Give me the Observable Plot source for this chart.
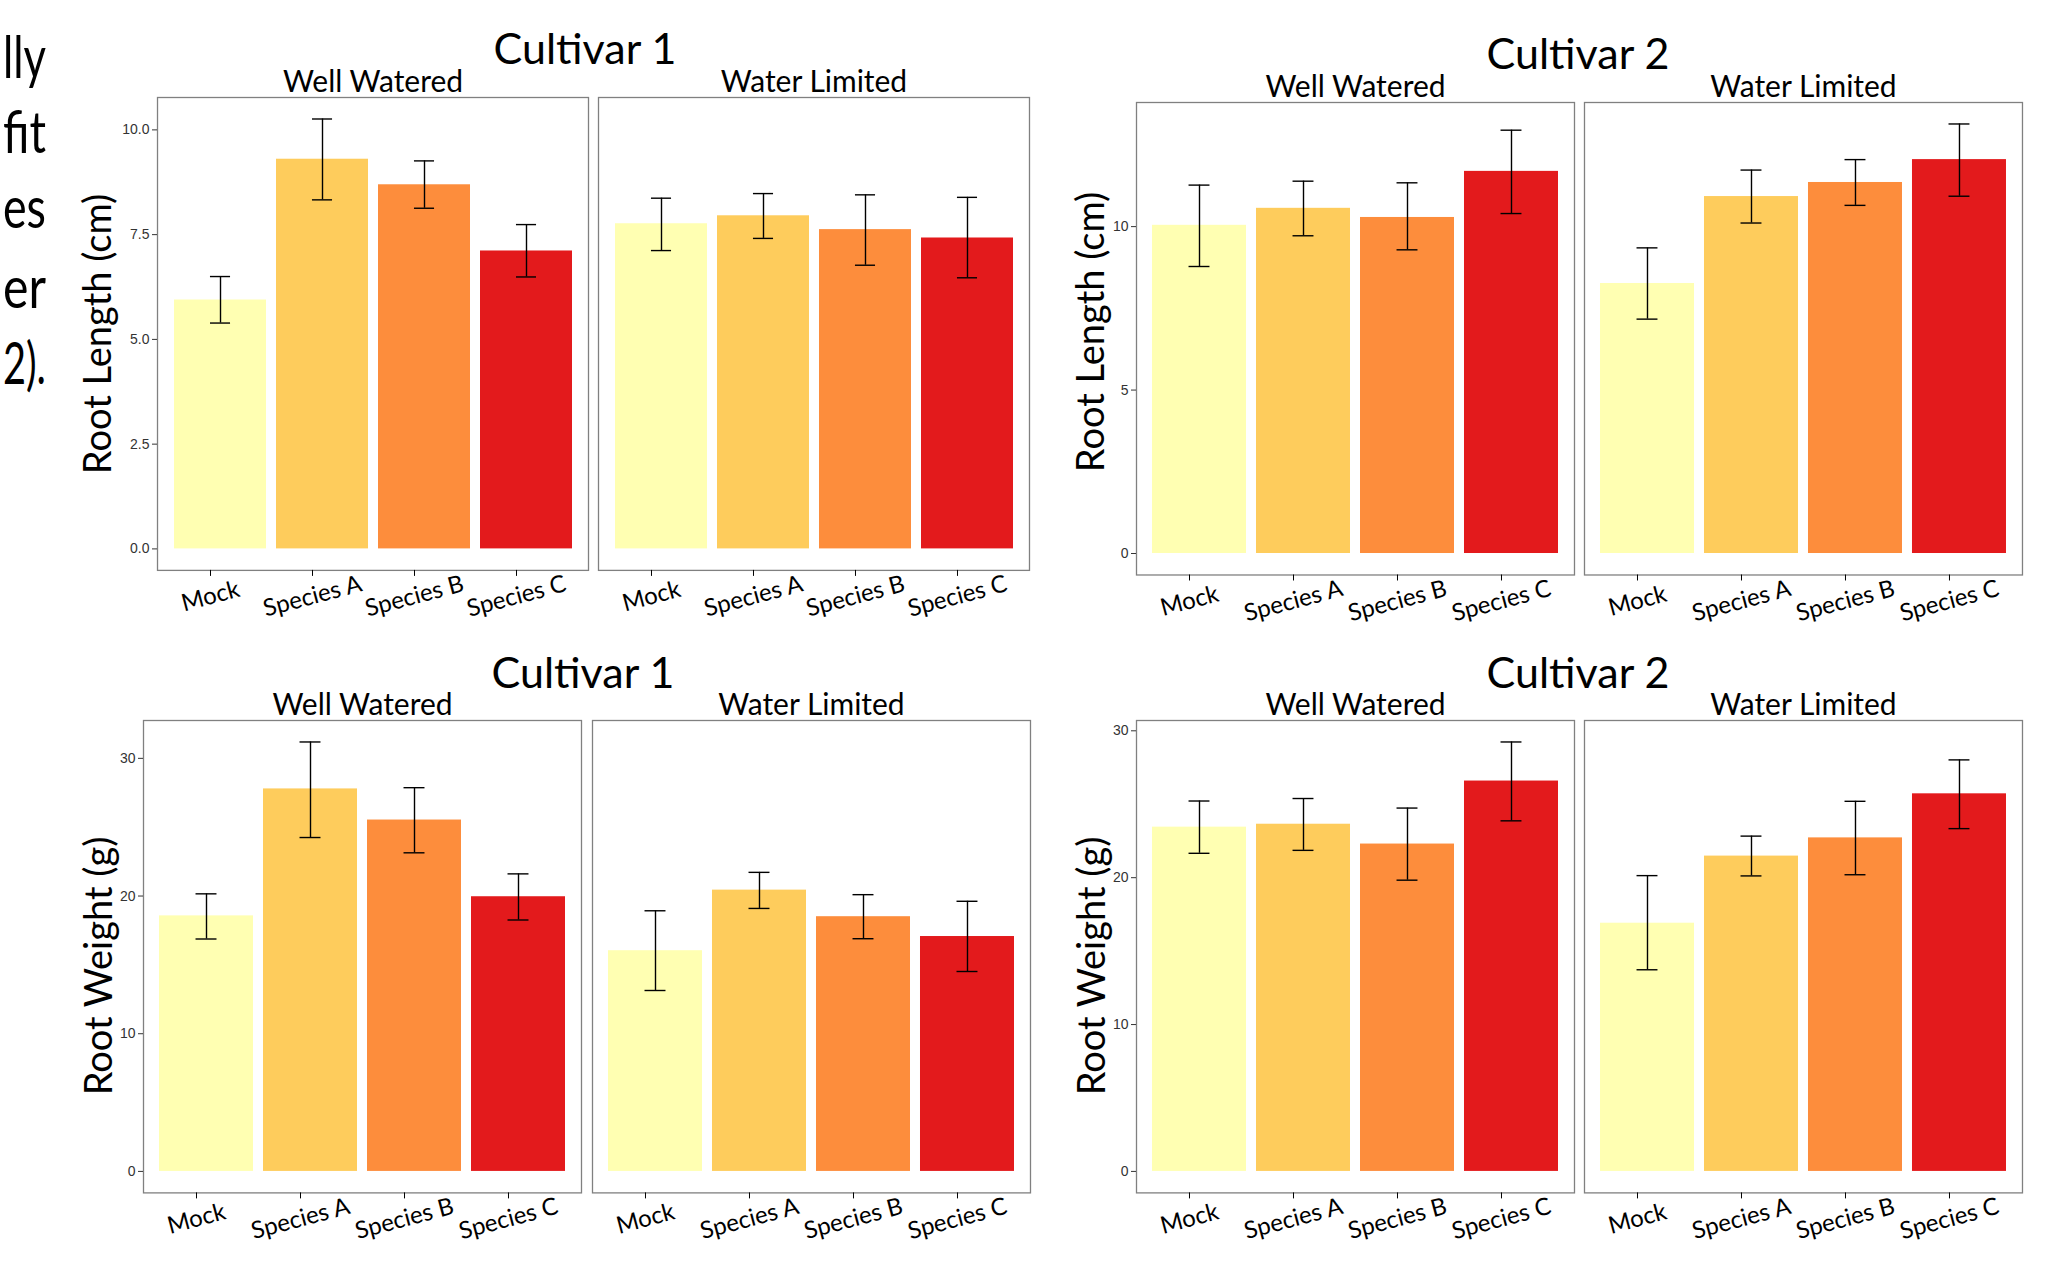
<!DOCTYPE html>
<html>
<head>
<meta charset="utf-8">
<script src="https://cdn.jsdelivr.net/npm/d3@7"></script>
<script src="https://cdn.jsdelivr.net/npm/@observablehq/plot@0.6"></script>
<style>
  html, body { margin: 0; padding: 0; background: #fff; }
  #page { position: relative; width: 2069px; height: 1272px; overflow: hidden; background: #fff; }
  .chart { position: absolute; }
  #overlay { position: absolute; left: 0; top: 0; }
</style>
</head>
<body>
<div id="page">
  <svg id="overlay" width="2069" height="1272"></svg>
</div>
<script>
// ---------- data ----------
const treatments = ["Mock", "Species A", "Species B", "Species C"];
const conditions = ["Well Watered", "Water Limited"];
const barColors = ["#ffffb2", "#fecc5c", "#fd8d3c", "#e31a1c"];

// values ordered: Well Watered (Mock, A, B, C), then Water Limited (Mock, A, B, C)
const c1LengthMean  = [5.94, 9.30, 8.69, 7.11, 7.76, 7.95, 7.62, 7.42];
const c1LengthLower = [5.39, 8.33, 8.13, 6.49, 7.12, 7.41, 6.77, 6.47];
const c1LengthUpper = [6.50, 10.26, 9.26, 7.74, 8.37, 8.48, 8.45, 8.39];
const c1LengthTicks = [0, 2.5, 5, 7.5, 10];

const c2LengthMean  = [10.04, 10.56, 10.28, 11.69, 8.26, 10.92, 11.35, 12.05];
const c2LengthLower = [8.78, 9.72, 9.29, 10.40, 7.17, 10.11, 10.65, 10.93];
const c2LengthUpper = [11.27, 11.39, 11.34, 12.95, 9.35, 11.73, 12.05, 13.14];
const c2LengthTicks = [0, 5, 10];

const c1WeightMean  = [18.56, 27.78, 25.52, 19.95, 16.03, 20.43, 18.50, 17.06];
const c1WeightLower = [16.88, 24.25, 23.14, 18.26, 13.14, 19.10, 16.90, 14.52];
const c1WeightUpper = [20.16, 31.19, 27.87, 21.61, 18.93, 21.72, 20.10, 19.62];
const c1WeightTicks = [0, 10, 20, 30];

const c2WeightMean  = [23.44, 23.64, 22.29, 26.58, 16.90, 21.47, 22.71, 25.71];
const c2WeightLower = [21.66, 21.86, 19.83, 23.87, 13.73, 20.12, 20.20, 23.34];
const c2WeightUpper = [25.22, 25.39, 24.74, 29.24, 20.14, 22.83, 25.20, 28.02];
const c2WeightTicks = [0, 10, 20, 30];

const chartTitles = ["Cultivar 1", "Cultivar 2", "Cultivar 1", "Cultivar 2"];
const yTitles = ["Root Length (cm)", "Root Length (cm)", "Root Weight (g)", "Root Weight (g)"];
const sideFragments = ["lly", "fit", "es", "er", "2)."];

// ---------- layout (pixels) ----------
const layouts = [
  {x0: 157,   x1: 1030,   y0: 96.5,  y1: 569.4,  gap: 10, titleX: 585,  titleY: 64,  yLabX: 111,  yLabY: 334},
  {x0: 1136,  x1: 2022.7, y0: 101.6, y1: 574.1,  gap: 10, titleX: 1578, titleY: 69,  yLabX: 1104, yLabY: 332},
  {x0: 142.7, x1: 1030,   y0: 720.2, y1: 1192.6, gap: 11, titleX: 583,  titleY: 688, yLabX: 112,  yLabY: 966},
  {x0: 1136,  x1: 2022.7, y0: 720.2, y1: 1192.6, gap: 10, titleX: 1578, titleY: 688, yLabX: 1105, yLabY: 966}
];

const series = [
  {mean: c1LengthMean, lower: c1LengthLower, upper: c1LengthUpper, ticks: c1LengthTicks, fmt: ".1f"},
  {mean: c2LengthMean, lower: c2LengthLower, upper: c2LengthUpper, ticks: c2LengthTicks, fmt: "d"},
  {mean: c1WeightMean, lower: c1WeightLower, upper: c1WeightUpper, ticks: c1WeightTicks, fmt: "d"},
  {mean: c2WeightMean, lower: c2WeightLower, upper: c2WeightUpper, ticks: c2WeightTicks, fmt: "d"}
];

const page = document.getElementById("page");
const gillLike = "Lato, 'Open Sans', sans-serif";

function makeChart(s, L) {
  const rows = [];
  conditions.forEach((cond, i) => treatments.forEach((trt, j) => {
    const k = i * treatments.length + j;
    rows.push({cond, trt, mean: s.mean[k], lower: s.lower[k], upper: s.upper[k]});
  }));
  const R = d3.max(s.upper);
  const W = L.x1 - L.x0, H = L.y1 - L.y0;
  const mL = 70, mR = 6, mT = 50, mB = 80;
  const pIn = 2 * L.gap / (W + L.gap);
  const facetW = (W - L.gap) / 2;
  const step = facetW / 4.2;
  const capInset = (0.9 * step - 0.2 * step) / 2;

  const chart = Plot.plot({
    width: W + mL + mR,
    height: H + mT + mB,
    marginLeft: mL, marginRight: mR, marginTop: mT, marginBottom: mB,
    style: {background: "transparent", overflow: "visible", fontFamily: gillLike},
    fx: {domain: conditions, paddingInner: pIn, paddingOuter: 0, label: null},
    x: {domain: treatments, paddingInner: 0.1, paddingOuter: 0.15, label: null},
    y: {domain: [-0.05 * R, 1.05 * R], label: null},
    color: {domain: treatments, range: barColors},
    marks: [
      Plot.barY(rows, {fx: "cond", x: "trt", y: "mean", fill: "trt"}),
      Plot.ruleX(rows, {fx: "cond", x: "trt", y1: "lower", y2: "upper", stroke: "#000", strokeWidth: 1.4}),
      Plot.tickY(rows, {fx: "cond", x: "trt", y: "lower", insetLeft: capInset, insetRight: capInset, stroke: "#000", strokeWidth: 1.4}),
      Plot.tickY(rows, {fx: "cond", x: "trt", y: "upper", insetLeft: capInset, insetRight: capInset, stroke: "#000", strokeWidth: 1.4}),
      Plot.frame({stroke: "#808080", strokeWidth: 1.3}),
      Plot.axisY(s.ticks, {tickFormat: d3.format(s.fmt), tickSize: 5, tickPadding: 3, fontSize: 14,
        fontFamily: "'Liberation Sans', Arial, sans-serif", color: "#333", label: null}),
      Plot.axisX({tickSize: 6, tickPadding: 20, tickRotate: -15, textAnchor: "middle", lineAnchor: "middle",
        dx: -10, fontSize: 24, color: "#000", label: null}),
      Plot.axisFx({anchor: "top", tickSize: 0, tickPadding: 5, fontSize: 30, color: "#000", label: null})
    ]
  });
  chart.classList.add("chart");
  chart.style.left = (L.x0 - mL) + "px";
  chart.style.top = (L.y0 - mT) + "px";
  page.appendChild(chart);
}

series.forEach((s, i) => makeChart(s, layouts[i]));

// ---------- titles, y-axis titles, side text ----------
const overlay = d3.select("#overlay");
layouts.forEach((L, i) => {
  overlay.append("text")
    .attr("x", L.titleX).attr("y", L.titleY)
    .attr("text-anchor", "middle")
    .attr("font-family", gillLike).attr("font-size", 43)
    .attr("fill", "#000")
    .text(chartTitles[i]);
  overlay.append("text")
    .attr("transform", `translate(${L.yLabX},${L.yLabY}) rotate(-90)`)
    .attr("text-anchor", "middle")
    .attr("font-family", gillLike).attr("font-size", 38)
    .attr("fill", "#000")
    .text(yTitles[i]);
});
const fragBaselines = [78, 153, 228, 308, 384];
const fragRight = 46, fragMaxWidth = 43;
sideFragments.forEach((t, i) => {
  const txt = overlay.append("text")
    .attr("x", fragRight).attr("y", fragBaselines[i])
    .attr("text-anchor", "end")
    .attr("font-family", gillLike).attr("font-size", 58)
    .attr("fill", "#000")
    .text(t);
  const w = txt.node().getComputedTextLength();
  if (w > fragMaxWidth) {
    txt.attr("textLength", fragMaxWidth).attr("lengthAdjust", "spacingAndGlyphs");
  }
});
</script>
</body>
</html>
